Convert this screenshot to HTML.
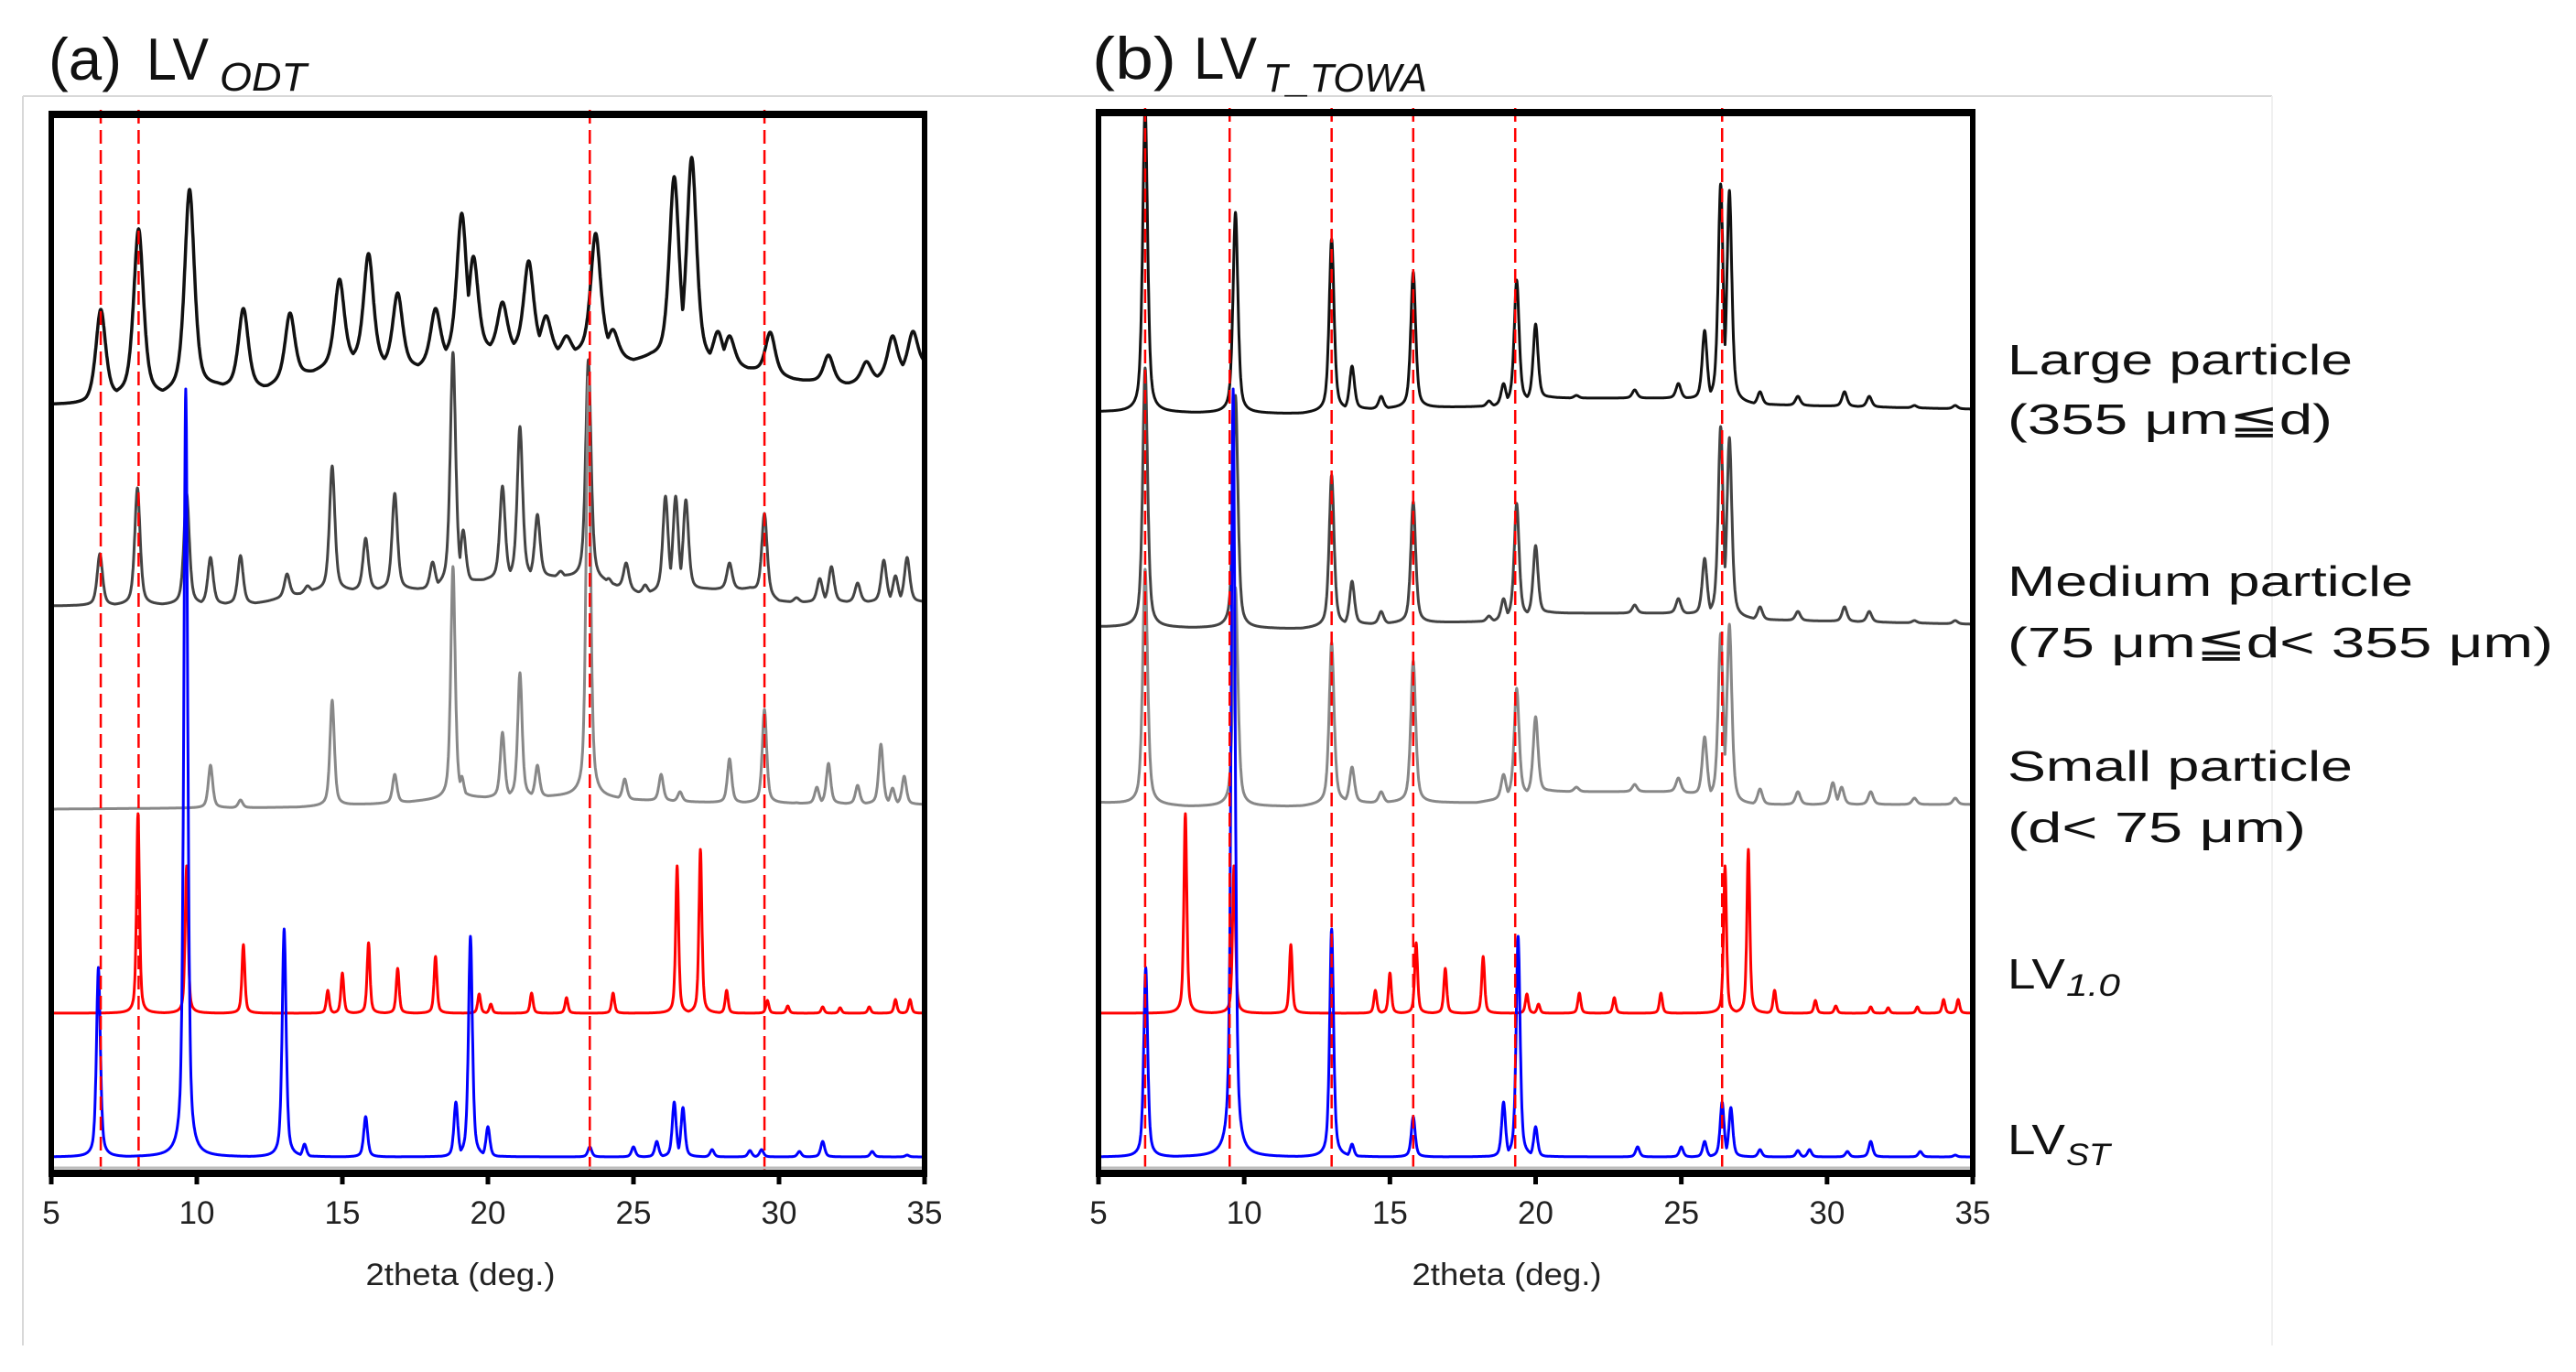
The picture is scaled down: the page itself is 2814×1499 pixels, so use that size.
<!DOCTYPE html>
<html><head><meta charset="utf-8"><style>
html,body{margin:0;padding:0;background:#fff;}
svg{display:block;font-family:"Liberation Sans","DejaVu Sans",sans-serif;}
</style></head><body>
<svg id="fig" width="2814" height="1499" viewBox="0 0 2814 1499" xmlns="http://www.w3.org/2000/svg">
<defs>
<clipPath id="clipA"><rect x="56" y="125" width="954" height="1157"/></clipPath>
<clipPath id="clipB"><rect x="1200" y="123" width="955" height="1159"/></clipPath>
</defs>
<g>
<line x1="25" y1="105" x2="2482" y2="105" stroke="#d8d8d8" stroke-width="2"/>
<line x1="25" y1="105" x2="25" y2="1470" stroke="#d8d8d8" stroke-width="2"/>
<line x1="2482" y1="105" x2="2482" y2="1470" stroke="#f0f0f0" stroke-width="2"/>
</g>
<text font-size="65" fill="#111"><tspan x="53" y="87" textLength="80" lengthAdjust="spacingAndGlyphs">(a)</tspan><tspan x="160" y="87" textLength="68" lengthAdjust="spacingAndGlyphs">LV</tspan><tspan x="240" y="99" font-size="44" font-style="italic" textLength="95" lengthAdjust="spacingAndGlyphs">ODT</tspan></text>
<text font-size="65" fill="#111"><tspan x="1193" y="86" textLength="92" lengthAdjust="spacingAndGlyphs">(b)</tspan><tspan x="1304" y="86" textLength="69" lengthAdjust="spacingAndGlyphs">LV</tspan><tspan x="1380" y="100" font-size="44" font-style="italic" textLength="179" lengthAdjust="spacingAndGlyphs">T_TOWA</tspan></text>
<g id="panelA"></g>
<g id="panelB"></g>
<g font-size="46" fill="#111">
<text x="2193" y="409" textLength="377" lengthAdjust="spacingAndGlyphs">Large particle</text>
<text x="2193" y="474" textLength="355" lengthAdjust="spacingAndGlyphs">(355 μm≦d)</text>
<text x="2193" y="651" textLength="443" lengthAdjust="spacingAndGlyphs">Medium particle</text>
<text x="2193" y="718" textLength="596" lengthAdjust="spacingAndGlyphs">(75 μm≦d&lt; 355 μm)</text>
<text x="2193" y="853" textLength="377" lengthAdjust="spacingAndGlyphs">Small particle</text>
<text x="2193" y="920" textLength="326" lengthAdjust="spacingAndGlyphs">(d&lt; 75 μm)</text>
<text><tspan x="2193" y="1080" textLength="63" lengthAdjust="spacingAndGlyphs">LV</tspan><tspan x="2257" y="1088" font-size="34" font-style="italic" textLength="59" lengthAdjust="spacingAndGlyphs">1.0</tspan></text>
<text><tspan x="2193" y="1261" textLength="63" lengthAdjust="spacingAndGlyphs">LV</tspan><tspan x="2257" y="1273" font-size="34" font-style="italic" textLength="48" lengthAdjust="spacingAndGlyphs">ST</tspan></text>
</g>
</svg>
<script>
const xTicks = [5, 10, 15, 20, 25, 30, 35];
// background knots [deg, intensity] and peaks [deg, top intensity]
const bgLargeA = [[5,840],[6.2,840],[7.3,849],[8.8,850],[10.7,859],[12.3,857],[13.7,872],[15.4,887],[16.4,882],[17.6,880],[18.6,890],[20.1,899],[21.8,899],[22.5,895],[23.1,895],[24,899],[25,887],[25.6,890],[28.5,882],[30.5,867],[32.3,862],[33.3,867],[35,882]];
const pkLargeA = [[6.7,944],[8.0,1032],[9.75,1075],[11.6,945],[13.2,940],[14.9,977],[15.9,1005],[16.9,962],[18.2,945],[19.1,1049],[19.5,1002],[20.5,952],[21.4,997],[22.0,937],[22.7,915],[23.7,1027],[24.3,922],[26.4,1089],[27.0,1110],[27.9,920],[28.3,915],[29.7,919],[31.7,894],[33.0,887],[33.9,915],[34.6,920]];
const bgMedA = [[5,620],[12,622],[14,636],[18,638],[20,648],[22.5,652],[24,645],[25.3,633],[27.5,638],[29,638],[30,624],[35,624]];
const pkMedA = [[6.67,677],[7.96,749],[9.65,743],[10.47,673],[11.5,675],[13.1,655],[13.8,642],[14.65,773],[15.8,694],[16.8,743],[18.1,668],[18.8,897],[19.15,703],[20.5,751],[21.1,816],[21.7,720],[22.5,658],[23.45,889],[24.15,650],[24.75,667],[25.4,643],[26.1,740],[26.45,740],[26.8,736],[28.3,667],[29.5,721],[30.6,629],[31.4,650],[31.8,663],[32.7,645],[33.6,670],[34.0,653],[34.4,673]];
const bgSmallA = [[5,398],[13.5,400],[17,405],[19,410],[23,412],[25,408],[28,405],[35,403]];
const pkSmallA = [[10.47,446],[11.5,408],[14.65,517],[16.8,436],[18.8,663],[19.1,434],[20.5,482],[21.1,547],[21.7,446],[23.45,870],[24.7,431],[25.95,436],[26.6,417],[28.3,453],[29.5,507],[30.6,405],[31.3,422],[31.7,448],[32.7,424],[33.5,469],[33.9,421],[34.3,434]];
const bgRed = [[5,175],[35,175]];
const pkRed = [[7.98,393],[9.65,336],[11.6,250],[14.5,200],[15.0,219],[15.9,252],[16.9,224],[18.2,237],[19.7,196],[20.1,185],[21.5,197],[22.7,192],[24.3,197],[26.5,336],[27.3,354],[28.2,200],[29.6,189],[30.3,183],[31.5,182],[32.1,181],[33.1,182],[34.0,190],[34.5,190]];
const bgBlue = [[5,18],[35,18]];
const pkBlue = [[6.62,225],[9.62,857],[13.0,267],[13.7,32],[15.8,62],[18.9,78],[19.4,259],[20.0,51],[23.5,29],[25.0,29],[25.8,35],[26.4,78],[26.7,72],[27.7,26],[29.0,25],[29.4,26],[30.7,24],[31.5,35],[33.2,24],[34.4,20]];
const bgLargeB = [[5,832],[12,830],[14,835],[18.5,838],[20.5,847],[25,847],[27.5,840],[35,835]];
const pkLargeB = [[6.6,1165],[9.7,1050],[13.0,1021],[13.7,882],[14.7,849],[15.8,985],[18.4,844],[18.9,863],[19.35,976],[20.0,928],[21.4,850],[23.4,856],[24.3,844],[24.9,863],[25.8,921],[26.35,1081],[26.65,1074],[27.7,854],[29.0,849],[30.6,854],[31.45,849],[33.0,839],[34.4,839]];
const bgMedB = [[5,597],[12,595],[14,600],[18.5,603],[20.5,612],[25,612],[27.5,605],[35,600]];
const pkMedB = [[6.6,880],[9.7,850],[13.0,763],[13.7,647],[14.7,614],[15.8,734],[18.4,609],[18.9,628],[19.35,732],[20.0,686],[23.4,621],[24.3,609],[24.9,628],[25.8,672],[26.35,816],[26.65,804],[27.7,619],[29.0,614],[30.6,619],[31.45,614],[33.0,604],[34.4,604]];
const bgSmallB = [[5,405],[8,401],[12,401],[13.5,405],[18,405],[20.5,417],[25,417],[27,403],[35,403]];
const pkSmallB = [[6.6,660],[9.7,640],[13.0,580],[13.7,444],[14.7,417],[15.8,560],[18.9,436],[19.35,530],[20.0,499],[21.4,422],[23.4,425],[24.3,415],[24.9,432],[25.8,477],[26.35,590],[26.65,600],[27.7,420],[29.0,417],[30.2,427],[30.5,422],[31.5,417],[33.0,410],[34.4,410]];
const refLinesA = [6.7, 8.0, 23.5, 29.5];
const refLinesB = [6.6, 9.5, 13.0, 15.8, 19.3, 26.4];

const NS = "http://www.w3.org/2000/svg";
function mk(tag, attrs, parent){const e=document.createElementNS(NS,tag);for(const k in attrs)e.setAttribute(k,attrs[k]);parent.appendChild(e);return e;}
function interp(knots,x){if(x<=knots[0][0])return knots[0][1];for(let i=1;i<knots.length;i++){if(x<=knots[i][0]){const a=knots[i-1],b=knots[i];return a[1]+(b[1]-a[1])*(x-a[0])/(b[0]-a[0]);}}return knots[knots.length-1][1];}

function panel(g, left, right, top, clipId, series, refLines, titleX){
  const bottom = 1282;
  const xS = d => left + (d-5)*(right-left)/30;
  const yS = v => bottom - v;
  const cg = mk('g',{'clip-path':'url(#'+clipId+')'},g);
  series.forEach(s=>{
    let dstr='';
    for(let i=0;i<=3000;i++){
      const x=5+i*0.01;
      const b=interp(s.bg,x);
      let v=b;
      for(const p of s.pk){const amp=p[1]-interp(s.bg,p[0]);const t=(x-p[0])/s.w;
        const c=b+amp*(0.55/(1+t*t)+0.45*Math.exp(-0.693*t*t));if(c>v)v=c;}
      dstr+=(i?'L':'M')+xS(x).toFixed(1)+' '+yS(v).toFixed(1);
    }
    const path = mk('path',{d:dstr,fill:'none',stroke:s.color,'stroke-width':s.sw,'stroke-linejoin':'round'},cg);
    
    
  });
  refLines.forEach(d=>{
    const l = mk('line',{x1:xS(d),x2:xS(d),y1:top-5,y2:bottom,stroke:'#ff0000','stroke-width':2.5,'stroke-dasharray':'15 7'},g);
    
    
  });
  mk('line',{x1:left,x2:right,y1:bottom-6,y2:bottom-6,stroke:'#bbb','stroke-width':3},g);
  const fr = mk('rect',{x:left,y:top,width:right-left,height:bottom-top,fill:'none',stroke:'#000','stroke-width':6},g);
  
  
  mk('line',{x1:left-3,x2:right+3,y1:top,y2:top,stroke:'#000','stroke-width':8},g);
  mk('line',{x1:left-3,x2:right+3,y1:bottom,y2:bottom,stroke:'#000','stroke-width':8},g);
  xTicks.forEach(t=>{
    const tk = mk('line',{x1:xS(t),x2:xS(t),y1:bottom,y2:bottom+12,stroke:'#000','stroke-width':5},g);
    
    
    const tl = mk('text',{x:xS(t),y:bottom+55,'text-anchor':'middle','font-size':35,fill:'#222'},g);
    tl.textContent = t;
    
    
  });
  const at = mk('text',{x:titleX,y:1404,'text-anchor':'middle','font-size':34,fill:'#222',textLength:207,lengthAdjust:'spacingAndGlyphs'},g);
  at.textContent = '2theta (deg.)';
  
  
}

panel(document.getElementById('panelA'), 56, 1010, 125, 'clipA', [
  {name:'large-particle-a',bg:bgLargeA,pk:pkLargeA,w:0.2,color:'#111',sw:3.5},
  {name:'medium-particle-a',bg:bgMedA,pk:pkMedA,w:0.11,color:'#444',sw:3},
  {name:'small-particle-a',bg:bgSmallA,pk:pkSmallA,w:0.09,color:'#888',sw:3},
  {name:'lv10-a',bg:bgRed,pk:pkRed,w:0.06,color:'#ff0000',sw:3},
  {name:'lvst-a',bg:bgBlue,pk:pkBlue,w:0.08,color:'#0000ff',sw:3}
], refLinesA, 503);
panel(document.getElementById('panelB'), 1200, 2155, 123, 'clipB', [
  {name:'large-particle-b',bg:bgLargeB,pk:pkLargeB,w:0.1,color:'#111',sw:3},
  {name:'medium-particle-b',bg:bgMedB,pk:pkMedB,w:0.1,color:'#444',sw:3},
  {name:'small-particle-b',bg:bgSmallB,pk:pkSmallB,w:0.1,color:'#888',sw:3},
  {name:'lv10-b',bg:bgRed,pk:pkRed,w:0.06,color:'#ff0000',sw:3},
  {name:'lvst-b',bg:bgBlue,pk:pkBlue,w:0.08,color:'#0000ff',sw:3}
], refLinesB, 1646);
</script>
</body></html>
